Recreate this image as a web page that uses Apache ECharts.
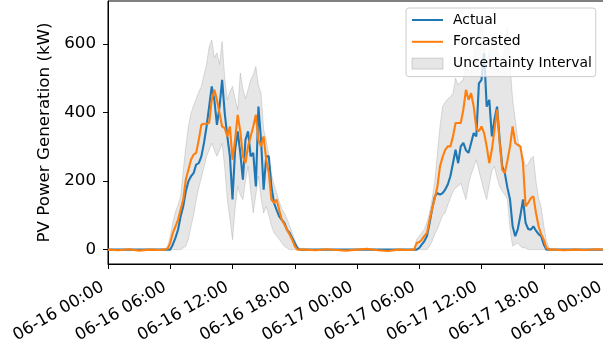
<!DOCTYPE html>
<html>
<head>
<meta charset="utf-8">
<script src="https://cdn.jsdelivr.net/npm/echarts@6/dist/echarts.min.js"></script>
<style>html,body{margin:0;padding:0;background:#fff;}#chart{width:603px;height:349px;}</style>
</head>
<body>
<div id="chart"></div>
<script>
// Hours since 06-16 00:00
const hours = [
  0,1,2,3,4,5,5.25,
  5.5,5.75,6,6.25,6.5,6.75,7,7.25,7.5,7.75,8,8.25,8.5,8.75,9,9.25,9.5,9.75,10,10.25,10.5,10.75,11,11.25,11.5,11.75,12,12.25,12.5,12.75,13,13.25,13.5,13.75,14,14.25,14.5,14.75,15,15.25,15.5,15.75,16,16.25,16.5,16.75,17,17.25,17.5,17.75,18,18.25,18.5,18.75,
  19,20,21,22,23,24,25,26,27,28,29,29.25,
  29.5,29.75,30,30.25,30.5,30.75,31,31.25,31.5,31.75,32,32.25,32.5,32.75,33,33.25,33.5,33.75,34,34.25,34.5,34.75,35,35.25,35.5,35.75,36,36.25,36.5,36.75,37,37.25,37.5,37.75,38,38.25,38.5,38.75,39,39.25,39.5,39.75,40,40.25,40.5,40.75,41,41.25,41.5,41.75,42,42.25,42.5,42.75,
  43,44,45,46,47,48
];
const actual = [
  0,0,0,0,0,0,0,
  0,0,0,15,34,58,97,126,170,199,214,223,248,252,272,311,359,417,476,437,364,417,495,398,330,272,146,291,345,282,204,320,345,272,282,184,417,320,175,272,272,184,136,116,97,87,78,58,49,34,19,5,0,0,
  0,0,0,0,0,0,0,0,0,0,0,0,
  0,0,5,15,25,40,78,120,155,165,160,165,175,190,214,252,291,252,301,311,290,282,311,340,330,485,495,573,417,437,330,380,417,320,243,223,180,146,68,39,60,100,146,78,60,58,68,55,45,39,15,0,0,0,
  0,0,0,0,0,0
];
const forecast = [
  0,-2,1,-3,0,-1,0,
  0,3,19,49,68,87,116,146,204,233,262,277,282,320,364,367,367,369,437,466,437,398,359,354,330,359,262,320,393,345,272,252,301,330,359,393,320,301,330,262,223,146,136,146,116,87,73,58,44,29,10,0,0,0,
  0,-2,1,-1,-3,0,2,-2,-4,0,-1,0,
  0,19,22,29,40,49,87,120,150,184,243,270,291,301,301,330,369,369,369,408,466,437,456,417,354,345,359,340,301,252,291,350,408,311,233,223,260,301,359,311,305,301,252,126,136,150,155,107,68,45,29,5,0,0,
  0,-2,0,-1,1,0
];
const lowerBound = [
  0,0,0,0,0,0,0,
  0,0,0,0,0,0,0,5,10,30,68,100,146,180,210,240,272,290,310,290,272,290,310,240,146,90,29,120,184,160,146,200,243,170,107,160,214,150,107,126,100,70,49,40,30,20,10,5,0,0,0,0,0,0,
  0,0,0,0,0,0,0,0,0,0,0,0,
  0,0,0,0,0,0,10,25,45,60,80,100,107,130,150,170,180,185,194,170,146,190,220,240,262,230,200,170,146,190,230,243,210,184,170,160,146,60,10,15,19,10,5,5,0,0,0,0,0,0,0,0,0,0,
  0,0,0,0,0,0
];
const upperBound = [
  0,0,0,0,0,0,0,
  0,10,40,80,110,130,155,230,300,360,398,420,440,460,476,510,540,592,611,560,573,540,607,500,437,460,476,440,408,515,470,440,466,495,510,534,480,456,350,320,272,220,190,165,140,120,107,90,70,50,29,8,0,0,
  0,0,0,0,0,0,0,0,0,0,0,0,
  0,30,40,50,60,80,110,150,200,280,360,417,430,440,445,456,500,480,490,495,540,520,515,560,600,631,670,600,534,580,610,631,580,553,540,600,650,540,437,380,320,291,270,243,250,265,272,200,150,124,70,27,5,0,
  0,0,0,0,0,0
];
const xTickLabels = ['06-16 00:00','06-16 06:00','06-16 12:00','06-16 18:00','06-17 00:00','06-17 06:00','06-17 12:00','06-17 18:00','06-18 00:00'];
const yTickValues = [0, 200, 400, 600];

const pair = arr => hours.map((h, i) => [h, arr[i]]);
const FONT = 'DejaVu Sans';
const BAND = 'rgba(128,128,128,0.2)';
const BANDSOLID = '#e6e6e6';
const EDGE = 'rgba(128,128,128,0.25)';

const chart = echarts.init(document.getElementById('chart'), null, {renderer: 'canvas'});
chart.setOption({
  animation: false,
  backgroundColor: '#fff',
  grid: {left: 108, top: 1, width: 498, height: 263, show: true, borderColor: '#000', borderWidth: 1, containLabel: false, outerBoundsMode: 'none'},
  legend: {
    orient: 'vertical', left: 406, top: 8,
    padding: [4, 4, 5, 5], itemGap: 5.8, itemWidth: 31, itemHeight: 11,
    backgroundColor: 'rgba(255,255,255,0.8)', borderColor: '#cccccc', borderWidth: 1, borderRadius: 3,
    textStyle: {fontFamily: FONT, fontSize: 13.9, color: '#000', lineHeight: 16, padding: [0, 0, 0, 5]},
    data: [
      {name: 'Actual', itemStyle: {opacity: 0}},
      {name: 'Forcasted', itemStyle: {opacity: 0}},
      {name: 'Uncertainty Interval', icon: 'rect', itemStyle: {color: BANDSOLID, borderColor: 'rgba(128,128,128,0.3)', borderWidth: 1}}
    ]
  },
  xAxis: {
    type: 'value', min: 0, max: 48, interval: 6,
    axisLine: {show: true, onZero: false, lineStyle: {color: '#000', width: 1}},
    axisTick: {show: true, length: 5, lineStyle: {color: '#000'}},
    splitLine: {show: false},
    axisLabel: {
      rotate: 30, margin: 19, padding: [0, 6, 0, 0], fontFamily: FONT, fontSize: 16.7, color: '#000', showMaxLabel: true, hideOverlap: false,
      formatter: v => xTickLabels[Math.round(v / 6)]
    }
  },
  yAxis: {
    type: 'value', min: -42, max: 725,
    name: 'PV Power Generation (kW)', nameLocation: 'middle', nameGap: 52,
    nameTextStyle: {fontFamily: FONT, fontSize: 16.7, color: '#000'},
    axisLine: {show: true, onZero: false, lineStyle: {color: '#000', width: 1}},
    axisTick: {show: true, length: 5, lineStyle: {color: '#000'}, customValues: yTickValues},
    splitLine: {show: false},
    axisLabel: {margin: 12, fontFamily: FONT, fontSize: 16.7, color: '#000', customValues: yTickValues}
  },
  series: [
    {name: 'Uncertainty Interval', type: 'line', data: pair(upperBound), symbol: 'none', silent: true,
     itemStyle: {color: BANDSOLID}, lineStyle: {opacity: 0, width: 0}, areaStyle: {color: BANDSOLID, opacity: 1}, z: 1},
    {name: 'bandLowerMask', type: 'line', data: pair(lowerBound), symbol: 'none', silent: true,
     lineStyle: {opacity: 0, width: 0}, areaStyle: {color: '#ffffff', opacity: 1}, z: 1},
    {name: 'upperEdge', type: 'line', data: pair(upperBound), symbol: 'none', silent: true, lineStyle: {color: EDGE, width: 1}, z: 2},
    {name: 'lowerEdge', type: 'line', data: pair(lowerBound), symbol: 'none', silent: true, lineStyle: {color: EDGE, width: 1}, z: 2},
    {name: 'Actual', type: 'line', data: pair(actual), symbol: 'none', itemStyle: {color: '#1f77b4'}, lineStyle: {color: '#1f77b4', width: 2.1}, z: 3},
    {name: 'Forcasted', type: 'line', data: pair(forecast), symbol: 'none', itemStyle: {color: '#ff7f0e'}, lineStyle: {color: '#ff7f0e', width: 2.1}, z: 4}
  ]
});
</script>
</body>
</html>
